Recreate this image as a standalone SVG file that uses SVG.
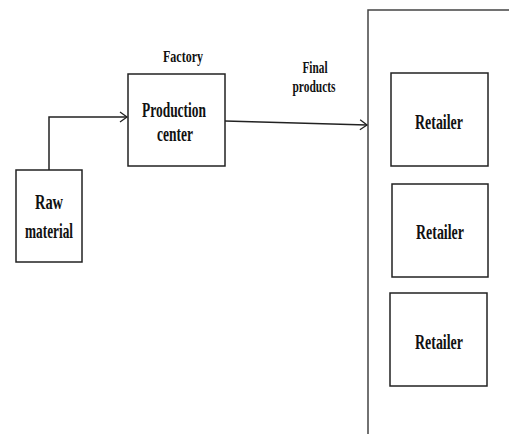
<svg xmlns="http://www.w3.org/2000/svg" width="509" height="434" viewBox="0 0 509 434">
<defs>
<style>
.box{fill:#fff;stroke:#222;stroke-width:1.5}
.t{font-family:"Liberation Serif","Times New Roman",serif;font-weight:bold;fill:#111;text-anchor:middle}
.big{font-size:21px}
.small{font-size:16px}
.ln{fill:none;stroke:#222;stroke-width:1.5}
</style>
<marker id="arr" markerWidth="10" markerHeight="12" refX="8" refY="6" orient="auto" markerUnits="userSpaceOnUse">
<path d="M1,1 L8,6 L1,11" fill="none" stroke="#222" stroke-width="1.3"/>
</marker>
</defs>
<rect width="509" height="434" fill="#fff"/>
<g id="container">
<path d="M368,434 V10 H509" fill="none" stroke="#444" stroke-width="1.5"/>
</g>
<g id="raw-material">
<rect class="box" x="16" y="170" width="66" height="92"/>
<text class="t big" x="49" y="209" textLength="28" lengthAdjust="spacingAndGlyphs">Raw</text>
<text class="t big" x="49" y="238" textLength="48" lengthAdjust="spacingAndGlyphs">material</text>
</g>
<g id="production-center">
<rect class="box" x="128" y="74" width="97" height="92"/>
<text class="t big" x="174" y="117" textLength="64" lengthAdjust="spacingAndGlyphs">Production</text>
<text class="t big" x="175" y="141" textLength="36" lengthAdjust="spacingAndGlyphs">center</text>
</g>
<g id="factory-label">
<text class="t small" x="183" y="62" textLength="40" lengthAdjust="spacingAndGlyphs">Factory</text>
</g>
<g id="final-products-label">
<text class="t small" x="315" y="73" textLength="25" lengthAdjust="spacingAndGlyphs">Final</text>
<text class="t small" x="314" y="92" textLength="43" lengthAdjust="spacingAndGlyphs">products</text>
</g>
<g id="retailer-1">
<rect class="box" x="391" y="73" width="97" height="93"/>
<text class="t big" x="439" y="129" textLength="48" lengthAdjust="spacingAndGlyphs">Retailer</text>
</g>
<g id="retailer-2">
<rect class="box" x="392" y="184" width="96" height="93"/>
<text class="t big" x="440" y="239" textLength="48" lengthAdjust="spacingAndGlyphs">Retailer</text>
</g>
<g id="retailer-3">
<rect class="box" x="390" y="293" width="97" height="93"/>
<text class="t big" x="439" y="349" textLength="48" lengthAdjust="spacingAndGlyphs">Retailer</text>
</g>
<g id="connectors">
<path class="ln" d="M49,170 V117 H127" marker-end="url(#arr)"/>
<path class="ln" d="M225,121 L367,125" marker-end="url(#arr)"/>
</g>
</svg>
